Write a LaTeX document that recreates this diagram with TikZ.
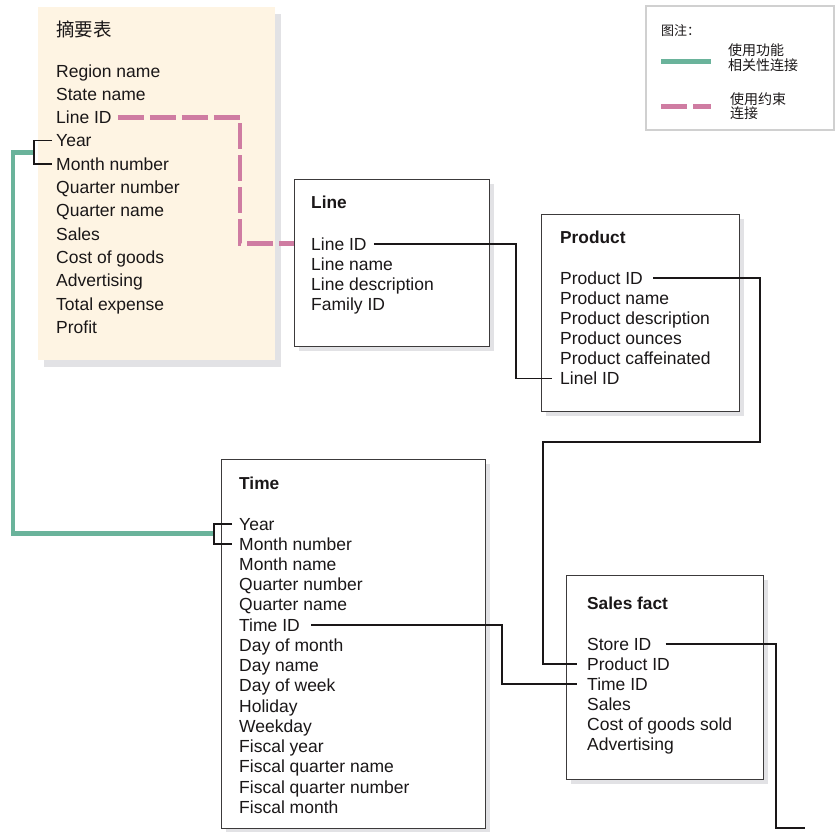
\documentclass[tikz,border=0pt]{standalone}
\usepackage{fontspec}
\setmainfont{Liberation Sans}
\newfontfamily\cjk{Noto Sans CJK SC}
\usetikzlibrary{calc, shadows}
\definecolor{Ink}{HTML}{1A1718}
\definecolor{Cream}{HTML}{FEF4E3}
\definecolor{FuncGreen}{HTML}{6AB39B}
\definecolor{ConsPink}{HTML}{CF7CA2}
\definecolor{ShadowGray}{HTML}{E2E2E5}
\definecolor{FrameGray}{HTML}{D0D0D0}

\begin{document}
\begin{tikzpicture}[x=1pt, y=-1pt,
    tbl/.style={draw=Ink!85, line width=1.4pt, fill=white, anchor=north west, inner sep=0pt,
        drop shadow={shadow xshift=4pt, shadow yshift=-4pt, fill=ShadowGray, opacity=1}},
    ttl/.style={anchor=base west, inner sep=0pt, text=Ink, font=\bfseries\fontsize{17.3}{20}\selectfont},
    row/.style={anchor=base west, inner sep=0pt, text height=12.5pt, text depth=0pt, text=Ink,
        font=\fontsize{17.5}{20}\selectfont},
    key/.style={anchor=base west, inner sep=0pt, text=Ink, font=\cjk\fontsize{14}{15}\selectfont},
    fk/.style={draw=Ink, line width=1.8pt},
    brk/.style={draw=Ink, line width=1.6pt},
    func/.style={draw=FuncGreen, line width=4.8pt},
    cons/.style={draw=ConsPink, line width=4.8pt, dash pattern=on 26pt off 6pt},
]
\useasboundingbox (0,0) rectangle (835,831);

% summary table
\node[anchor=north west, fill=Cream, inner sep=0pt, minimum width=237pt, minimum height=353pt,
      drop shadow={shadow xshift=6pt, shadow yshift=-7pt, fill=ShadowGray, opacity=1}] (sum) at (38,7) {};
\node[anchor=base west, inner sep=0pt, text=Ink, font=\cjk\fontsize{18.5}{20}\selectfont] (sumttl) at (56,36.5) {摘要表};
\foreach \txt [count=\i] in {Region name, State name, Line ID, Year, Month number, Quarter number,
    Quarter name, Sales, Cost of goods, Advertising, Total expense, Profit}
  \node[row] (sum-\i) at (56, {77+23.3*(\i-1)}) {\txt};

% legend
\node[anchor=north west, draw=FrameGray, line width=2pt, inner sep=0pt,
      minimum width=188pt, minimum height=124pt] (legend) at (645,5) {};
\node[key, font=\cjk\fontsize{13}{15}\selectfont] (legttl) at (661,35.7) {图注：};
\draw[func] (661,61.7) -- (711,61.7);
\node[key] (leg1a) at (728,55.7) {使用功能};
\node[key] (leg1b) at (728,70.7) {相关性连接};
\draw[cons] (661,106.7) -- (711,106.7);
\node[key] (leg2a) at (730,104) {使用约束};
\node[key] (leg2b) at (730,118.5) {连接};

% Line
\node[tbl, minimum width=195pt, minimum height=167pt] (line) at (294,179) {};
\node[ttl] (linettl) at (311,208) {Line};
\foreach \txt [count=\i] in {Line ID, Line name, Line description, Family ID}
  \node[row] (lin-\i) at (311, {250+20*(\i-1)}) {\txt};

% Product
\node[tbl, minimum width=198pt, minimum height=197pt] (product) at (541,214) {};
\node[ttl] (prottl) at (560,243.3) {Product};
\foreach \txt [count=\i] in {Product ID, Product name, Product description, Product ounces,
    Product caffeinated, Linel ID}
  \node[row] (pro-\i) at (560, {284.3+20.1*(\i-1)}) {\txt};

% Time
\node[tbl, minimum width=264pt, minimum height=369pt] (time) at (221,459) {};
\node[ttl] (timttl) at (239,489.3) {Time};
\foreach \txt [count=\i] in {Year, Month number, Month name, Quarter number, Quarter name, Time ID,
    Day of month, Day name, Day of week, Holiday, Weekday, Fiscal year, Fiscal quarter name,
    Fiscal quarter number, Fiscal month}
  \node[row] (tim-\i) at (239, {530+20.24*(\i-1)}) {\txt};

% Sales fact
\node[tbl, minimum width=197pt, minimum height=204pt] (sales) at (566,575) {};
\node[ttl] (salttl) at (587,609.3) {Sales fact};
\foreach \txt [count=\i] in {Store ID, Product ID, Time ID, Sales, Cost of goods sold, Advertising}
  \node[row] (sal-\i) at (587, {650+20.1*(\i-1)}) {\txt};

% functional dependency join
\coordinate (sbrk) at ($(sum-4.west)!0.5!(sum-5.west)+(-22,0)$);
\coordinate (tbrk) at ($(tim-1.west)!0.5!(tim-2.west)+(-25,0)$);
\draw[func] (sbrk) -- ++(-21,0) |- (tbrk);
\draw[brk] ([xshift=-4pt]sum-4.west) -| (sbrk) |- ([xshift=-4pt]sum-5.west);
\draw[brk] ([xshift=-7pt]tim-1.west) -| (tbrk) |- ([xshift=-7pt]tim-2.west);

% constraint join
\draw[cons] ([xshift=6pt]sum-3.east) -- (240,0 |- sum-3.east) |- (line.west |- lin-1.west);

% foreign keys
\draw[fk] ([xshift=7pt]lin-1.east) -- (516,0 |- lin-1.east) |- ([xshift=-8pt]pro-6.west);
\draw[fk] ([xshift=10pt]pro-1.east) -- (760,0 |- pro-1.east) |- (543,442) |- ([xshift=-10pt]sal-2.west);
\draw[fk] ([xshift=11pt]tim-6.east) -- (502,0 |- tim-6.east) |- ([xshift=-10pt]sal-3.west);
\coordinate (store) at (805,828);
\draw[fk] ([xshift=14pt]sal-1.east) -- (776,0 |- sal-1.east) |- (store);

\end{tikzpicture}
\end{document}
